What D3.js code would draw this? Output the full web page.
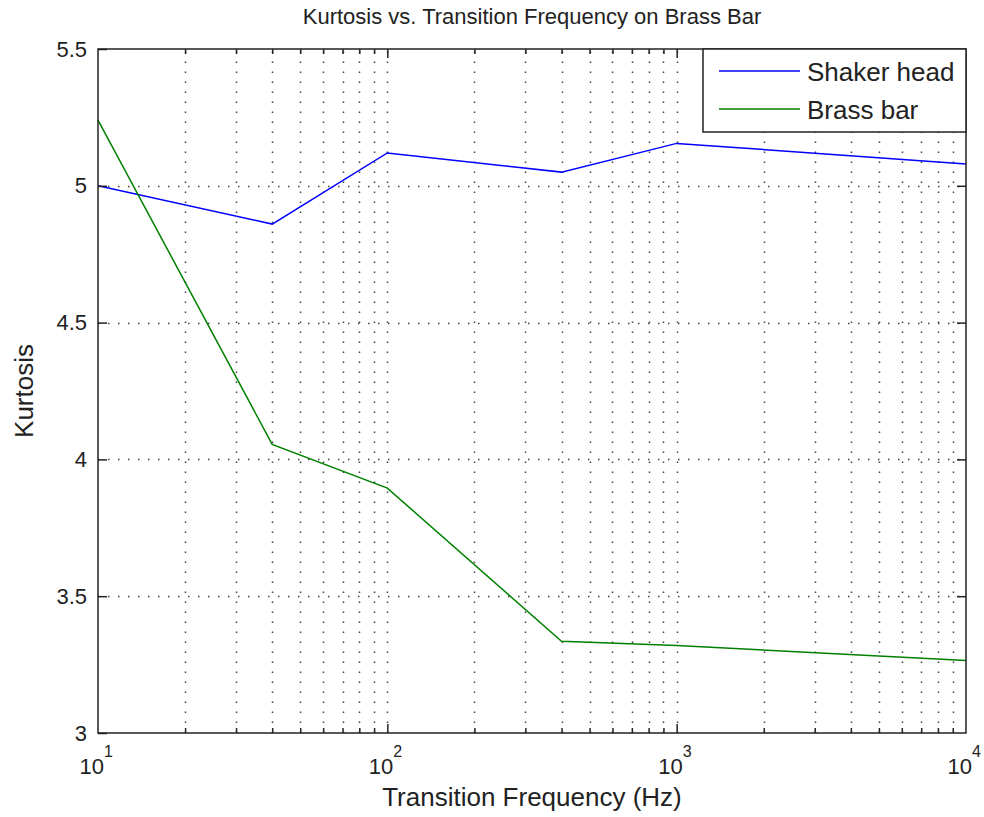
<!DOCTYPE html>
<html>
<head>
<meta charset="utf-8">
<script src="https://cdn.jsdelivr.net/npm/d3@7"></script>
<style>
  html, body { margin: 0; padding: 0; background: #fff; }
  svg { display: block; font-family: "Liberation Sans", Arial, sans-serif; }
</style>
</head>
<body>
<div id="chart"></div>
<script>
// Kurtosis vs. transition frequency, MATLAB-style semilogx

const frequencies = [10, 40, 100, 400, 1000, 10000];
const shakerHead  = [5.00, 4.86, 5.12, 5.05, 5.155, 5.08];
const brassBar    = [5.24, 4.055, 3.895, 3.335, 3.32, 3.265];
const seriesNames = ['Shaker head', 'Brass bar'];
const seriesColors = ['#0000ff', '#008000'];
const yTicks = [3, 3.5, 4, 4.5, 5, 5.5];
const xDecades = [10, 100, 1000, 10000];

const W = 984, H = 817;
const M = { left: 98, right: 18, top: 49, bottom: 84 };
const PW = W - M.left - M.right;
const PH = H - M.top - M.bottom;

const svg = d3.select('#chart').append('svg')
  .attr('width', W)
  .attr('height', H);

const x = d3.scaleLog().domain([10, 10000]).range([0, PW]);
const y = d3.scaleLinear().domain([3, 5.5]).range([PH, 0]);

// minor decade ticks 20..90, 200..900, 2000..9000
const xMinor = [];
xDecades.slice(0, -1).forEach(function(d) {
  for (var k = 2; k <= 9; k++) xMinor.push(d * k);
});

const g = svg.append('g').attr('transform', 'translate(' + M.left + ',' + M.top + ')');

// Grid (dotted)
const grid = g.append('g')
  .attr('stroke', '#444')
  .attr('stroke-width', 1.5)
  .attr('stroke-dasharray', '1.5,8.5');

xMinor.concat(xDecades.slice(1, -1)).forEach(function(v) {
  grid.append('line')
    .attr('x1', Math.round(x(v)) + 0.5).attr('x2', Math.round(x(v)) + 0.5)
    .attr('y1', PH).attr('y2', 0);
});
yTicks.slice(1, -1).forEach(function(v) {
  grid.append('line')
    .attr('x1', 0).attr('x2', PW)
    .attr('y1', Math.round(y(v)) + 0.5).attr('y2', Math.round(y(v)) + 0.5);
});

// Data lines
const line = d3.line()
  .x(function(d) { return x(d[0]); })
  .y(function(d) { return y(d[1]); });

[shakerHead, brassBar].forEach(function(vals, i) {
  g.append('path')
    .datum(frequencies.map(function(f, j) { return [f, vals[j]]; }))
    .attr('fill', 'none')
    .attr('stroke', seriesColors[i])
    .attr('stroke-width', 1.5)
    .attr('d', line);
});

// Axes with inward ticks (all four sides)
function styleAxis(sel) {
  sel.select('.domain').remove();
  sel.selectAll('.tick line').attr('stroke', '#222').attr('stroke-width', 1.5);
  sel.selectAll('text').attr('fill', '#222');
}

const yAxisL = g.append('g')
  .call(d3.axisLeft(y).tickValues(yTicks).tickSize(-9).tickPadding(11)
    .tickFormat(function(d) { return d3.format('')(d); }))
  .call(styleAxis);
yAxisL.selectAll('text').attr('font-size', 22);

g.append('g').attr('transform', 'translate(' + PW + ',0)')
  .call(d3.axisRight(y).tickValues(yTicks.slice(1, -1)).tickSize(-9).tickFormat(''))
  .call(styleAxis);

[[0, PH, d3.axisBottom], [0, 0, d3.axisTop]].forEach(function(cfg) {
  const tr = 'translate(' + cfg[0] + ',' + cfg[1] + ')';
  g.append('g').attr('transform', tr)
    .call(cfg[2](x).tickValues(xMinor).tickSize(-5).tickFormat(''))
    .call(styleAxis);
  g.append('g').attr('transform', tr)
    .call(cfg[2](x).tickValues(xDecades.slice(1, -1)).tickSize(-9).tickFormat(''))
    .call(styleAxis);
});

// Decade labels 10^n
const xLab = g.append('g').attr('transform', 'translate(0,' + PH + ')')
  .call(d3.axisBottom(x).tickValues(xDecades).tickSize(0).tickFormat(''));
xLab.select('.domain').remove();
xLab.selectAll('.tick text')
  .attr('y', 0).attr('dy', 0)
  .attr('text-anchor', 'start')
  .attr('font-size', 22)
  .attr('fill', '#222')
  .each(function(d) {
    const t = d3.select(this);
    t.append('tspan').attr('x', -19).attr('y', 41).text('10');
    t.append('tspan').attr('font-size', 16).attr('dx', 0).attr('y', 24).text(Math.round(Math.log10(d)));
  });

// Box
g.append('rect')
  .attr('width', PW).attr('height', PH)
  .attr('fill', 'none')
  .attr('stroke', '#222')
  .attr('stroke-width', 1.5);

// Legend
const LW = 263, LH = 83;
const leg = g.append('g').attr('transform', 'translate(' + (PW - LW) + ',0)');
leg.append('rect')
  .attr('width', LW).attr('height', LH)
  .attr('fill', '#fff')
  .attr('stroke', '#222')
  .attr('stroke-width', 1.5);
seriesNames.forEach(function(name, i) {
  const ly = 22 + i * 38;
  leg.append('line')
    .attr('x1', 16).attr('x2', 97)
    .attr('y1', ly).attr('y2', ly)
    .attr('stroke', seriesColors[i])
    .attr('stroke-width', 1.5);
  leg.append('text')
    .attr('x', 104).attr('y', ly + 10)
    .attr('font-size', 26)
    .attr('fill', '#222')
    .text(name);
});

// Titles
svg.append('text')
  .attr('x', M.left + PW / 2).attr('y', 24)
  .attr('text-anchor', 'middle')
  .attr('font-size', 22)
  .attr('fill', '#222')
  .text('Kurtosis vs. Transition Frequency on Brass Bar');

svg.append('text')
  .attr('x', M.left + PW / 2).attr('y', 806)
  .attr('text-anchor', 'middle')
  .attr('font-size', 26)
  .attr('fill', '#222')
  .text('Transition Frequency (Hz)');

svg.append('text')
  .attr('transform', 'translate(33,' + (M.top + PH / 2) + ') rotate(-90)')
  .attr('text-anchor', 'middle')
  .attr('font-size', 26)
  .attr('fill', '#222')
  .text('Kurtosis');
</script>
</body>
</html>
